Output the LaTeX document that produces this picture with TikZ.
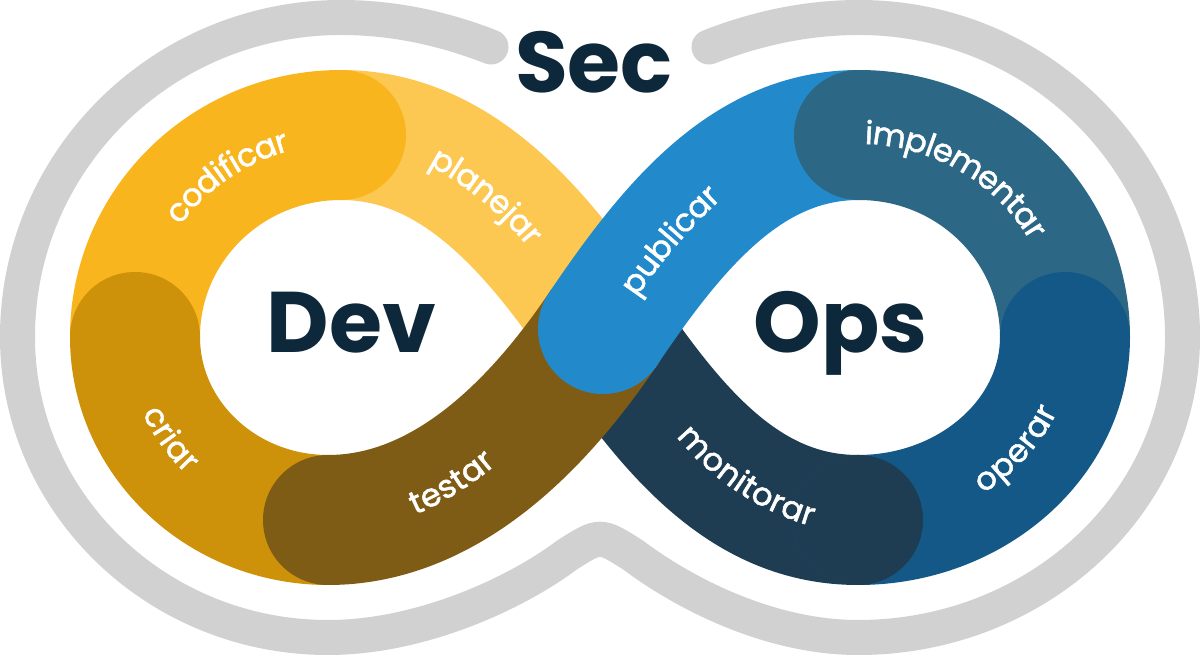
\documentclass[tikz,border=0pt]{standalone}
\usepackage{fontspec}
\setmainfont{Poppins}
\newfontfamily\lblfamily{Poppins}[FakeBold=1.6]
\usetikzlibrary{decorations.text}

\definecolor{cPlan}{HTML}{FDC851}
\definecolor{cCode}{HTML}{F9B51E}
\definecolor{cBuild}{HTML}{CD920A}
\definecolor{cTest}{HTML}{7F5C15}
\definecolor{cRelease}{HTML}{228ACB}
\definecolor{cDeploy}{HTML}{2C6886}
\definecolor{cOperate}{HTML}{145887}
\definecolor{cMonitor}{HTML}{1E3D52}
\definecolor{cInk}{HTML}{0E283B}
\definecolor{cRing}{HTML}{D1D1D1}

\newcommand\lblfont{\lblfamily\fontsize{32}{32}\selectfont}
\newcommand\headfont{\fontsize{86}{86}\selectfont\bfseries}

\begin{document}
\begin{tikzpicture}[x=1pt,y=1pt,
  band/.style={line width=130pt, line cap=round},
  ring/.style={draw=cRing, line width=35pt, line cap=round},
  head/.style={font=\headfont, text=cInk, inner sep=0pt},
  lbl/.style={decorate, decoration={text along path, text align=center,
      raise=-9pt, text color=white, text={|\lblfont|#1}}}]

\fill[white] (0,0) rectangle (1200,656);
\useasboundingbox (0,0) rectangle (1200,656);

% key points of the band centre line
\coordinate (C)  at (603,327);
\coordinate (TL) at (341,521);
\coordinate (L)  at (135,319);
\coordinate (BL) at (328,136);
\coordinate (TR) at (859,521);
\coordinate (R)  at (1065,319);
\coordinate (BR) at (858,136);

% outer grey ring, open at the top for the "Sec" title
\draw[ring] (491,609) .. controls (445,627) and (395,638.5) .. (341,638.5)
  .. controls (162.4,638.5) and (17.5,495.4) .. (17.5,319)
  .. controls (17.5,153.1) and (156.6,18.5) .. (328,18.5)
  .. controls (420,18.5) and (515,62) .. (567,101)
  .. controls (600,122) .. (633,101)
  .. controls (685,62) and (770,18.5) .. (858,18.5)
  .. controls (1037.1,18.5) and (1182.5,153.1) .. (1182.5,319)
  .. controls (1182.5,495.4) and (1037.6,638.5) .. (859,638.5)
  .. controls (805,638.5) and (755,627) .. (709,609);

% band segments, each start cap lying over the previous segment
\draw[band, cMonitor] (BR) .. controls (748,136) and (675.7,219.2) .. (C);
\draw[band, cPlan]    (C) .. controls (530.3,434.8) and (451,521) .. (TL);
\draw[band, cCode]    (TL) .. controls (227,521) and (135,430.5) .. (L);
\draw[band, cBuild]   (L) .. controls (135,218) and (221.5,136) .. (BL);
\draw[band, cTest]    (BL) .. controls (438,136) and (530.3,219.2) .. (C);
\draw[band, cRelease] (C) .. controls (675.7,434.8) and (749,521) .. (TR);
\draw[band, cDeploy]  (TR) .. controls (973,521) and (1065,430.5) .. (R);
\draw[band, cOperate] (R) .. controls (1065,218) and (972,136) .. (BR);
\fill[cMonitor] (BR) circle[radius=65pt];

% stage labels along the band
\path[lbl=codificar] (341,319) ++(165:206pt and 202pt)
  arc[start angle=165, end angle=85, x radius=206pt, y radius=202pt];
\path[lbl=planejar] (273.4,200.7) ++(75.6:338pt)
  arc[start angle=75.6, end angle=25.6, radius=338pt];
\path[lbl=criar] (328,319) ++(184:193pt and 183pt)
  arc[start angle=184, end angle=244, x radius=193pt, y radius=183pt];
\path[lbl=testar] (295,423.7) ++(277:298pt)
  arc[start angle=277, end angle=327, radius=298pt];
\path[lbl=publicar] (1106.8,41.5) ++(154.4:576pt)
  arc[start angle=154.4, end angle=124.4, radius=576pt];
\path[lbl=implementar] (859,319) ++(104:206pt and 202pt)
  arc[start angle=104, end angle=14, x radius=206pt, y radius=202pt];
\path[lbl=operar] (858,319) ++(-68:207pt and 183pt)
  arc[start angle=-68, end angle=-8, x radius=207pt, y radius=183pt];
\path[lbl=monitorar] (886,388.3) ++(206.3:260pt)
  arc[start angle=206.3, end angle=266.3, radius=260pt];

% titles
\node[head, anchor=base] (sec) at (594,563) {Sec};
\node[head, anchor=base] (dev) at (351.5,303) {Dev};
\node[head, anchor=base] (ops) at (840.5,303) {Ops};
\end{tikzpicture}
\end{document}
